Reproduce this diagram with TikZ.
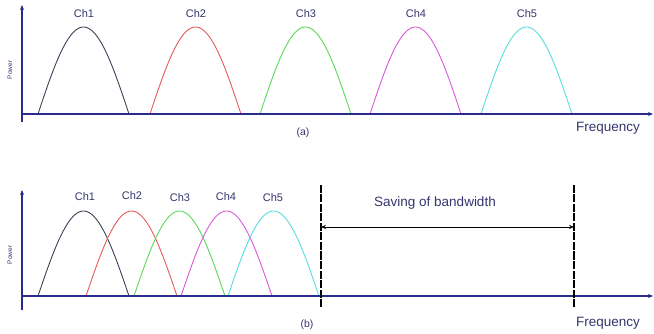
\documentclass[tikz,border=0pt]{standalone}
\usepackage{fontspec}
\setmainfont{Liberation Sans}
\usetikzlibrary{arrows.meta}
\definecolor{axisblue}{HTML}{2B2B8C}
\definecolor{labblue}{HTML}{35356E}
\definecolor{cA}{HTML}{3E4058}
\definecolor{cB}{HTML}{E65A5A}
\definecolor{cC}{HTML}{5AD85A}
\definecolor{cD}{HTML}{D85AD8}
\definecolor{cE}{HTML}{5ADCDC}
\tikzset{
  axisline/.style={draw=axisblue,line width=1.1pt},
  axisarrow/.style={axisline,-{Stealth[length=5pt,width=4pt]}},
  curve/.style={line width=0.9pt},
  chlab/.style={text=labblue,font=\fontsize{11}{13}\selectfont,inner sep=0pt},
  biglab/.style={text=labblue,font=\fontsize{13.5}{15}\selectfont,inner sep=0pt},
  powlab/.style={text=labblue,font=\fontsize{6.5}{7}\selectfont,inner sep=0pt,rotate=90},
  sublab/.style={text=labblue,font=\fontsize{10.5}{12}\selectfont,inner sep=0pt},
  bwline/.style={draw=black,line width=1.2pt,dash pattern=on 8pt off 1.5pt},
}
\begin{document}
\begin{tikzpicture}[x=1pt,y=-1pt]
\useasboundingbox (0,0) rectangle (654,334);
% ---------- panel (a)
\coordinate (a0) at (22,122);
\coordinate (aT) at (22,5);
\coordinate (aL) at (22,114);
\coordinate (aR) at (653,114);
\foreach \s/\c/\n in {38/cA/1,150/cB/2,260/cC/3,370/cD/4,481/cE/5}{
  \draw[curve,draw=\c] plot[domain=0:180,samples=50] ({\s+91*\x/180},{114-87*sin(\x)});
  \node[chlab] (ta\n) at ({\s+46},14) {Ch\n};
}
\draw[axisarrow] (a0) -- (aT);
\draw[axisarrow] (aL) -- (aR);
\node[powlab] (pa) at (10,70) {Power};
\node[sublab] (suba) at (303,133) {(a)};
\node[biglab] (fa) at (608,128) {Frequency};
% ---------- panel (b)
\coordinate (b0) at (22,310);
\coordinate (bT) at (22,190);
\coordinate (bL) at (22,296);
\coordinate (bR) at (653,296);
\foreach \s/\c/\n in {38/cA/1,86/cB/2,134/cC/3,181/cD/4,228/cE/5}{
  \draw[curve,draw=\c] plot[domain=0:180,samples=50] ({\s+91*\x/180},{296-85*sin(\x)});
}
\node[chlab] (tb1) at (85,197) {Ch1};
\node[chlab] (tb2) at (132,196) {Ch2};
\node[chlab] (tb3) at (180,198) {Ch3};
\node[chlab] (tb4) at (226,197) {Ch4};
\node[chlab] (tb5) at (273,198) {Ch5};
\draw[axisarrow] (b0) -- (bT);
\draw[axisarrow] (bL) -- (bR);
\node[powlab] (pb) at (10,255) {Power};
\coordinate (v1t) at (321,185);
\coordinate (v1b) at (321,308);
\coordinate (v2t) at (574,185);
\coordinate (v2b) at (574,308);
\draw[bwline] (v1t) -- (v1b);
\draw[bwline] (v2t) -- (v2b);
\coordinate (h1) at (321,227);
\coordinate (h2) at (574,227);
\draw[draw=black,line width=0.7pt,{Stealth[length=5pt,width=4pt]}-{Stealth[length=5pt,width=4pt]}] (h1) -- (h2);
\node[biglab] (sav) at (435,203) {Saving of bandwidth};
\node[sublab] (subb) at (307,325) {(b)};
\node[biglab] (fb) at (608,323) {Frequency};
\end{tikzpicture}
\end{document}
